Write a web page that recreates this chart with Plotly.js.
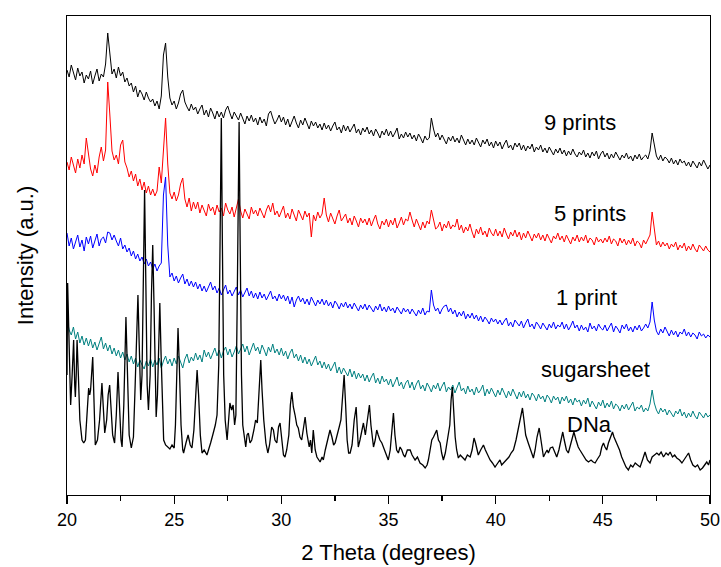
<!DOCTYPE html>
<html>
<head>
<meta charset="utf-8">
<script src="https://cdn.plot.ly/plotly-3.0.1.min.js"></script>
<style>html,body{margin:0;padding:0;background:#fff;}#chart{width:721px;height:567px;}</style>
</head>
<body>
<div id="chart"></div>
<script>
// 2 Theta sampling grid (degrees) for the print / sugarsheet scans
const twoTheta = [
20.0,20.1,20.2,20.3,20.4,20.5,20.6,20.7,20.8,20.9,
21.0,21.1,21.2,21.3,21.4,21.5,21.6,21.7,21.8,21.9,
22.0,22.1,22.2,22.3,22.4,22.5,22.6,22.7,22.8,22.9,
23.0,23.1,23.2,23.3,23.4,23.5,23.6,23.7,23.8,23.9,
24.0,24.1,24.2,24.3,24.4,24.5,24.6,24.7,24.8,24.9,
25.0,25.1,25.2,25.3,25.4,25.5,25.6,25.7,25.8,25.9,
26.0,26.1,26.2,26.3,26.4,26.5,26.6,26.7,26.8,26.9,
27.0,27.1,27.2,27.3,27.4,27.5,27.6,27.7,27.8,27.9,
28.0,28.1,28.2,28.3,28.4,28.5,28.6,28.7,28.8,28.9,
29.0,29.1,29.2,29.3,29.4,29.5,29.6,29.7,29.8,29.9,
30.0,30.1,30.2,30.3,30.4,30.5,30.6,30.7,30.8,30.9,
31.0,31.1,31.2,31.3,31.4,31.5,31.6,31.7,31.8,31.9,
32.0,32.1,32.2,32.3,32.4,32.5,32.6,32.7,32.8,32.9,
33.0,33.1,33.2,33.3,33.4,33.5,33.6,33.7,33.8,33.9,
34.0,34.1,34.2,34.3,34.4,34.5,34.6,34.7,34.8,34.9,
35.0,35.1,35.2,35.3,35.4,35.5,35.6,35.7,35.8,35.9,
36.0,36.1,36.2,36.3,36.4,36.5,36.6,36.7,36.8,36.9,
37.0,37.1,37.2,37.3,37.4,37.5,37.6,37.7,37.8,37.9,
38.0,38.1,38.2,38.3,38.4,38.5,38.6,38.7,38.8,38.9,
39.0,39.1,39.2,39.3,39.4,39.5,39.6,39.7,39.8,39.9,
40.0,40.1,40.2,40.3,40.4,40.5,40.6,40.7,40.8,40.9,
41.0,41.1,41.2,41.3,41.4,41.5,41.6,41.7,41.8,41.9,
42.0,42.1,42.2,42.3,42.4,42.5,42.6,42.7,42.8,42.9,
43.0,43.1,43.2,43.3,43.4,43.5,43.6,43.7,43.8,43.9,
44.0,44.1,44.2,44.3,44.4,44.5,44.6,44.7,44.8,44.9,
45.0,45.1,45.2,45.3,45.4,45.5,45.6,45.7,45.8,45.9,
46.0,46.1,46.2,46.3,46.4,46.5,46.6,46.7,46.8,46.9,
47.0,47.1,47.2,47.3,47.4,47.5,47.6,47.7,47.8,47.9,
48.0,48.1,48.2,48.3,48.4,48.5,48.6,48.7,48.8,48.9,
49.0,49.1,49.2,49.3,49.4,49.5,49.6,49.7,49.8,49.9,
50.0];

// Intensities (a.u., stacked offsets as drawn)
const prints9 = [
425,418,430,421,415,427,419,423,412,420,
416,424,411,419,426,414,421,418,431,462,
438,421,426,417,428,419,423,413,417,409,
412,403,409,398,405,401,395,403,397,393,
396,389,394,386,399,440,452,418,397,390,
394,386,392,401,405,393,388,384,391,385,
388,381,386,390,380,385,378,387,382,376,
384,378,383,377,385,389,382,376,383,379,
375,382,376,371,379,374,380,373,377,370,
378,372,376,369,381,384,377,371,375,380,
373,378,370,376,368,374,379,372,367,375,
370,377,371,366,374,369,373,367,371,365,
372,366,370,364,369,373,365,368,362,370,
364,369,363,367,371,362,366,360,367,363,
368,361,365,359,366,362,357,364,360,366,
359,364,358,362,367,356,361,357,363,358,
362,356,360,354,361,357,352,359,355,357,
377,366,358,362,355,360,356,351,358,354,
359,353,357,352,360,355,350,356,351,355,
350,357,352,348,355,351,356,349,353,347,
354,349,353,346,351,355,347,350,345,352,
348,352,345,350,344,349,346,351,343,348,
345,350,343,347,342,348,344,340,346,342,
347,341,345,339,344,340,346,341,338,343,
340,345,338,342,337,343,339,344,336,341,
344,338,342,336,341,337,343,339,335,340,
337,342,336,339,334,340,336,341,335,338,
340,336,344,362,352,339,335,340,334,338,
336,332,337,331,335,330,336,332,334,329,
333,328,334,330,327,333,329,335,331,326,
330];

const prints5 = [
333,325,338,329,322,336,327,340,331,357,
341,326,319,330,322,338,348,334,345,413,
380,344,335,340,331,350,355,333,327,318,
324,314,321,309,316,305,313,302,309,300,
306,299,304,328,312,350,377,331,302,296,
303,294,300,311,317,296,288,297,284,293,
286,293,282,290,285,279,291,284,288,280,
290,283,287,279,292,285,281,288,278,286,
296,284,277,286,280,276,288,281,285,279,
287,281,277,285,290,283,292,280,284,278,
283,289,277,282,276,286,280,274,285,279,
275,284,278,282,258,280,274,283,277,281,
297,280,273,282,276,271,279,285,274,278,
281,272,277,270,279,274,268,277,272,276,
270,277,269,275,280,271,266,274,270,276,
268,275,270,277,267,272,278,270,276,274,
283,275,268,276,270,265,273,267,274,271,
285,274,266,268,273,264,271,267,274,266,
270,268,276,265,270,262,268,264,271,263,
257,266,261,268,260,264,258,267,262,259,
266,259,264,258,267,261,256,263,259,265,
258,263,255,262,257,264,259,254,261,257,
262,255,260,254,261,257,252,259,256,262,
255,259,253,260,256,251,258,254,260,253,
258,254,260,252,257,255,250,258,253,256,
252,257,253,259,251,256,254,249,257,252,
256,250,255,251,257,249,254,252,247,255,
251,256,260,283,265,250,254,248,253,249,
252,246,251,248,253,245,250,247,252,244,
249,245,251,246,243,250,247,244,249,245,
243];

const print1 = [
262,249,257,246,253,260,248,255,244,258,
251,259,247,254,261,249,256,258,252,263,
262,255,260,254,249,257,246,250,243,247,
239,244,236,241,234,238,231,236,229,233,
226,231,224,229,232,300,318,250,218,222,
214,219,212,217,221,211,216,209,214,208,
213,206,211,204,209,203,208,213,205,209,
202,207,200,206,210,201,205,199,204,208,
200,205,198,203,207,199,204,197,202,196,
203,197,201,195,200,204,196,199,194,201,
196,200,194,199,191,198,188,195,199,193,
197,191,196,190,198,193,189,195,191,196,
190,195,189,193,187,194,191,186,192,188,
193,187,191,186,192,188,184,190,186,191,
185,190,186,183,189,185,191,184,188,183,
189,184,187,182,188,185,181,187,183,186,
181,186,182,179,185,181,187,180,184,183,
205,190,184,187,181,186,189,190,183,187,
181,185,178,183,179,184,176,181,177,182,
176,180,174,179,173,178,175,171,177,173,
176,171,175,170,174,177,169,173,168,175,
172,169,174,167,172,176,168,171,166,173,
170,166,172,168,165,171,167,173,166,170,
168,173,166,171,165,169,174,167,170,164,
170,165,168,163,172,166,169,164,171,167,
165,170,164,168,172,163,169,166,162,170,
166,171,164,168,163,169,165,170,164,167,
171,167,173,193,175,164,160,166,162,168,
163,159,165,160,164,158,163,161,166,159,
163,158,162,160,156,163,159,161,157,160,
158];

const sugarsheet = [
176,165,160,168,156,163,152,159,150,157,
149,156,147,153,145,151,158,146,152,144,
150,141,147,139,145,137,143,135,141,133,
139,131,137,128,135,130,126,134,129,136,
128,135,130,137,127,134,139,131,136,129,
137,131,139,133,127,136,141,132,138,134,
142,135,140,133,145,138,143,136,141,147,
139,145,137,144,148,140,146,138,143,149,
141,147,151,143,149,140,146,152,144,148,
141,150,145,139,148,143,151,142,146,140,
147,139,144,136,142,146,137,141,134,140,
132,138,131,136,129,135,139,130,134,127,
133,126,131,124,129,133,122,128,121,127,
123,119,126,118,124,116,122,117,121,114,
120,113,118,122,112,117,111,119,113,116,
110,116,108,114,118,109,113,106,112,115,
107,113,105,111,115,106,110,104,112,108,
103,110,106,112,104,109,113,103,108,105,
110,102,108,113,104,107,101,109,103,106,
100,108,102,105,110,99,106,101,107,103,
98,105,100,107,101,97,104,99,106,100,
96,103,98,104,97,101,95,102,99,94,
101,96,99,93,100,97,92,99,95,98,
91,98,94,99,92,96,90,97,93,95,
89,95,91,97,88,94,90,86,93,89,
95,87,92,88,94,86,91,89,84,90,
86,91,85,89,93,84,88,86,90,83,
87,84,91,105,92,85,81,87,83,86,
80,85,82,78,84,81,86,79,83,77,
82,78,84,79,76,83,80,77,82,78,
80];

// DNa scan, read point by point from the pattern
const dnaTheta = [
20.00,20.03,20.10,20.17,20.24,20.31,20.36,20.39,20.43,20.47,
20.53,20.60,20.70,20.78,20.86,20.94,21.01,21.06,21.10,21.20,
21.26,21.32,21.42,21.52,21.63,21.70,21.76,21.85,21.92,21.99,
22.05,22.13,22.22,22.30,22.38,22.45,22.52,22.57,22.65,22.75,
22.82,22.90,23.00,23.10,23.18,23.26,23.31,23.37,23.44,23.50,
23.56,23.62,23.68,23.74,23.80,23.88,23.94,24.00,24.06,24.11,
24.16,24.22,24.28,24.33,24.39,24.45,24.51,24.60,24.70,24.80,
24.90,25.00,25.06,25.12,25.18,25.24,25.32,25.40,25.44,25.55,
25.65,25.75,25.83,25.92,26.00,26.07,26.14,26.22,26.30,26.40,
26.53,26.62,26.70,26.80,26.92,27.00,27.08,27.14,27.20,27.25,
27.31,27.38,27.47,27.54,27.60,27.68,27.75,27.82,27.88,27.94,
28.00,28.03,28.08,28.14,28.20,28.26,28.34,28.40,28.46,28.54,
28.62,28.72,28.80,28.88,28.96,29.04,29.10,29.18,29.28,29.37,
29.45,29.55,29.63,29.70,29.79,29.87,29.94,30.02,30.10,30.17,
30.25,30.35,30.42,30.49,30.56,30.64,30.72,30.79,30.87,30.95,
31.03,31.11,31.19,31.30,31.36,31.42,31.49,31.58,31.66,31.74,
31.81,31.90,31.96,32.05,32.15,32.27,32.36,32.44,32.51,32.62,
32.70,32.78,32.86,32.93,33.00,33.07,33.14,33.21,33.30,33.40,
33.49,33.55,33.59,33.67,33.75,33.83,33.92,34.02,34.11,34.18,
34.24,34.30,34.38,34.45,34.52,34.60,34.69,34.80,34.90,34.99,
35.08,35.15,35.23,35.30,35.38,35.46,35.54,35.62,35.70,35.77,
35.88,36.01,36.10,36.24,36.35,36.47,36.60,36.71,36.80,36.86,
36.95,37.02,37.10,37.18,37.25,37.33,37.41,37.48,37.56,37.65,
37.72,37.79,37.86,37.92,37.98,38.04,38.11,38.18,38.26,38.35,
38.45,38.57,38.68,38.81,38.90,38.99,39.06,39.12,39.19,39.30,
39.43,39.52,39.62,39.74,39.85,39.97,40.10,40.20,40.28,40.40,
40.52,40.62,40.72,40.83,40.95,41.06,41.15,41.25,41.32,41.40,
41.52,41.62,41.70,41.76,41.84,41.93,42.03,42.10,42.18,42.23,
42.32,42.40,42.46,42.55,42.66,42.76,42.85,42.95,43.05,43.13,
43.20,43.30,43.39,43.48,43.56,43.65,43.75,43.85,43.93,44.02,
44.12,44.22,44.33,44.45,44.55,44.64,44.75,44.87,44.95,45.03,
45.10,45.18,45.26,45.35,45.45,45.52,45.60,45.68,45.78,45.88,
45.98,46.08,46.19,46.30,46.40,46.51,46.62,46.74,46.85,46.97,
47.08,47.20,47.30,47.40,47.52,47.62,47.72,47.83,47.95,48.05,
48.14,48.25,48.35,48.45,48.58,48.69,48.80,48.92,49.00,49.10,
49.20,49.31,49.42,49.54,49.65,49.75,49.85,49.93,50.00];

const dnaIntensity = [
120,212,150,90,120,155,110,98,120,155,
120,75,55,52,55,80,107,100,105,138,
90,50,55,75,112,80,62,75,100,110,
85,60,52,80,123,85,55,48,90,178,
110,60,47,58,110,170,200,150,95,120,
220,305,210,110,85,120,200,250,190,110,
78,100,160,192,140,85,55,50,48,46,
50,47,70,130,167,130,70,45,42,52,
60,50,47,65,100,125,100,60,42,45,
40,48,52,60,70,80,130,250,377,250,
120,75,55,75,92,85,90,70,80,190,
350,373,250,120,70,60,48,60,62,52,
55,65,75,72,110,135,105,75,52,42,
50,68,65,55,52,68,72,55,40,38,
45,60,90,103,88,80,70,67,58,55,
68,78,62,48,55,42,65,45,38,35,
33,38,35,45,55,65,58,50,52,60,
68,75,100,120,90,55,42,42,50,75,
88,70,48,55,65,72,60,75,90,70,
55,48,55,65,60,55,52,45,40,35,
45,65,82,60,45,42,48,45,40,38,
45,45,40,35,38,32,30,27,30,35,
45,55,58,62,65,55,52,42,35,42,
50,58,70,95,108,85,58,45,37,40,
38,35,40,38,45,57,52,45,40,45,
50,45,40,35,32,28,32,35,30,33,
35,38,42,45,55,68,78,87,75,60,
52,45,40,37,45,58,67,55,42,38,
42,45,42,47,48,42,38,45,55,63,
55,45,42,50,58,63,55,48,45,42,
38,35,33,35,33,32,36,40,48,52,
48,45,52,58,63,58,54,50,45,38,
33,28,25,30,28,32,30,28,35,43,
35,32,38,40,42,40,43,38,42,40,
43,38,40,37,35,32,36,40,42,35,
30,28,30,25,27,30,33,30,35];

const seriesNames = ["9 prints","5 prints","1 print","sugarsheet","DNa"];
const seriesColors = ["#000000","#ff0000","#0000ff","#008080","#000000"];
const labelTheta = [43.94, 44.4, 44.26, 44.68, 44.36];
const labelIntensity = [373, 282, 198, 126, 71];

const ys = [prints9, prints5, print1, sugarsheet];
const traces = ys.map((y, i) => ({
  x: twoTheta, y: y, type: 'scatter', mode: 'lines', name: seriesNames[i],
  line: {color: seriesColors[i], width: 1}
}));
traces.push({x: dnaTheta, y: dnaIntensity, type: 'scatter', mode: 'lines', name: 'DNa',
  line: {color: seriesColors[4], width: 1.3}});

const fontFam = 'Liberation Sans, Arial, sans-serif';
const annotations = seriesNames.map((t, i) => ({
  x: labelTheta[i], y: labelIntensity[i], xref: 'x', yref: 'y', text: t,
  showarrow: false, xanchor: 'center', yanchor: 'middle',
  font: {family: fontFam, size: 22, color: '#000'}
}));

const layout = {
  width: 721, height: 567,
  margin: {l: 67, r: 11, t: 16, b: 72},
  paper_bgcolor: '#fff', plot_bgcolor: '#fff',
  showlegend: false,
  font: {family: fontFam, color: '#000'},
  xaxis: {
    range: [20, 50], tickvals: [20,25,30,35,40,45,50], ticktext: ['20','25','30','35','40','45','50'],
    ticks: 'outside', ticklen: 8, tickwidth: 1.2, tickcolor: '#000',
    minor: {tickvals: [22.5,27.5,32.5,37.5,42.5,47.5], ticks: 'outside', ticklen: 5, tickwidth: 1.2, tickcolor: '#000'},
    showline: true, linecolor: '#000', linewidth: 1.3, mirror: true,
    showgrid: false, zeroline: false,
    tickfont: {family: fontFam, size: 18, color: '#000'},
    title: {text: '2 Theta (degrees)', font: {family: fontFam, size: 22, color: '#000'}, standoff: 15}
  },
  yaxis: {
    range: [0, 479], showticklabels: false, ticks: '',
    showline: true, linecolor: '#000', linewidth: 1.3, mirror: true,
    showgrid: false, zeroline: false,
    title: {text: 'Intensity (a.u.)', font: {family: fontFam, size: 22, color: '#000'}, standoff: 26}
  },
  annotations: annotations
};

Plotly.newPlot('chart', traces, layout, {displayModeBar: false, staticPlot: true});
</script>
</body>
</html>
